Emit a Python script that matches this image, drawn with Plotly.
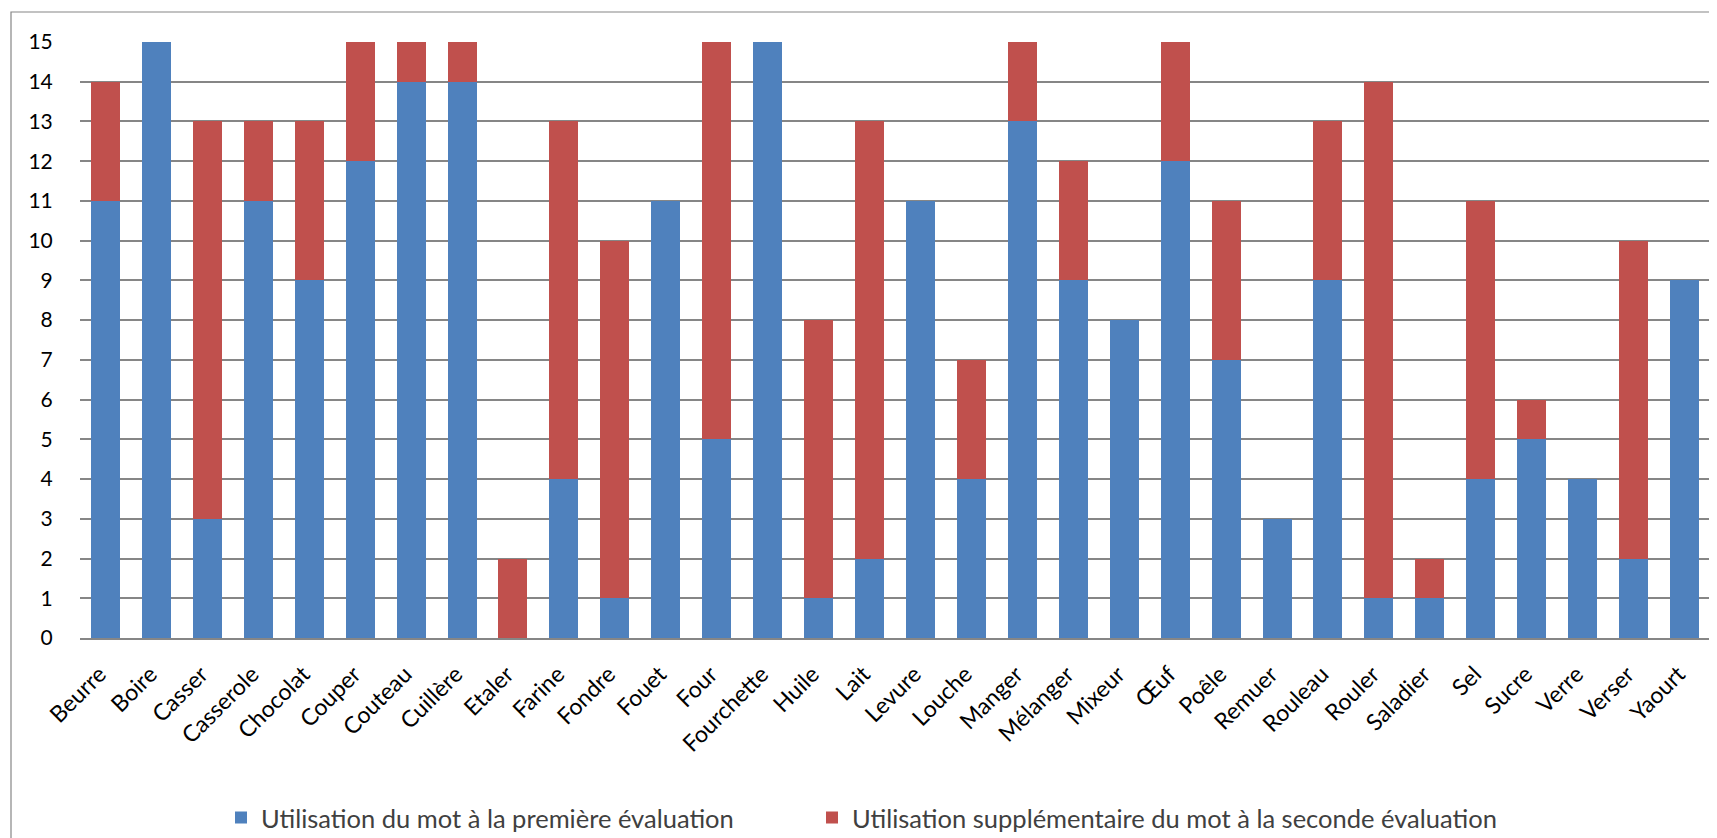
import plotly.graph_objects as go

categories = ["Beurre", "Boire", "Casser", "Casserole", "Chocolat", "Couper", "Couteau", "Cuillère",
              "Etaler", "Farine", "Fondre", "Fouet", "Four", "Fourchette", "Huile", "Lait", "Levure",
              "Louche", "Manger", "Mélanger", "Mixeur", "Œuf", "Poêle", "Remuer", "Rouleau", "Rouler",
              "Saladier", "Sel", "Sucre", "Verre", "Verser", "Yaourt"]
first_eval = [11, 15, 3, 11, 9, 12, 14, 14, 0, 4, 1, 11, 5, 15, 1, 2, 11, 4, 13, 9, 8, 12, 7, 3, 9, 1, 1, 4, 5, 4, 2, 9]
second_extra = [3, 0, 10, 2, 4, 3, 1, 1, 2, 9, 9, 0, 10, 0, 7, 11, 0, 3, 2, 3, 0, 3, 4, 0, 4, 13, 1, 7, 1, 0, 8, 0]
y_ticks = list(range(0, 16))

name1 = "Utilisation du mot à la première évaluation"
name2 = "Utilisation supplémentaire du mot à la seconde évaluation"

FONT = "Lato"
OFF = 8  # page body margin

fig = go.Figure()
fig.add_trace(go.Bar(x=categories, y=first_eval, name=name1, legend="legend", showlegend=True,
                     marker=dict(color="#4F81BD", line=dict(width=0))))
fig.add_trace(go.Bar(x=categories, y=second_extra, name=name2, legend="legend2", showlegend=True,
                     marker=dict(color="#C0504D", line=dict(width=0))))

W, H = 1717 - OFF, 838 - OFF
L, R, T, B = 80 - OFF, 7, 42 - OFF, 200
pw = W - L - R
ph = H - T - B

def px_x(p):
    return (p - OFF - L) / pw

def px_y(p):
    return (H - B - (p - OFF)) / ph

legend_common = dict(
    orientation="h",
    xanchor="left",
    y=px_y(818), yanchor="middle",
    font=dict(family=FONT, size=25.5, color="#404040"),
    itemwidth=30,
    bgcolor="rgba(0,0,0,0)",
    visible=True,
)

fig.update_layout(
    width=W, height=H,
    showlegend=True,
    barmode="stack",
    bargap=0.43,
    plot_bgcolor="white",
    paper_bgcolor="white",
    margin=dict(l=L, r=R, t=T, b=B, autoexpand=False),
    font=dict(family=FONT, color="#000000", size=19),
    xaxis=dict(
        tickangle=-45,
        tickfont=dict(family=FONT, size=23, color="#000000"),
        showgrid=False,
        showline=True, linecolor="#868686", linewidth=1.5,
        ticks="outside", ticklen=12, tickcolor="rgba(0,0,0,0)",
        ticklabelshift=-6,
    ),
    yaxis=dict(
        range=[0, 15],
        tickvals=y_ticks,
        tickfont=dict(family=FONT, size=21, color="#000000"),
        showgrid=True, gridcolor="#868686", gridwidth=1.5,
        zeroline=False,
        showline=False,
        ticks="outside", ticklen=22, tickwidth=1, tickcolor="rgba(255,255,255,0)",
    ),
    legend=dict(x=px_x(239 - 18), **legend_common),
    legend2=dict(x=px_x(830 - 18), **legend_common),
    shapes=[
        dict(type="rect", xref="paper", yref="paper",
             x0=px_x(11), x1=px_x(1760), y0=px_y(12), y1=px_y(900),
             line=dict(color="#868686", width=1.2), fillcolor="rgba(0,0,0,0)", layer="below"),
    ],
)

fig.write_html("out.html")
